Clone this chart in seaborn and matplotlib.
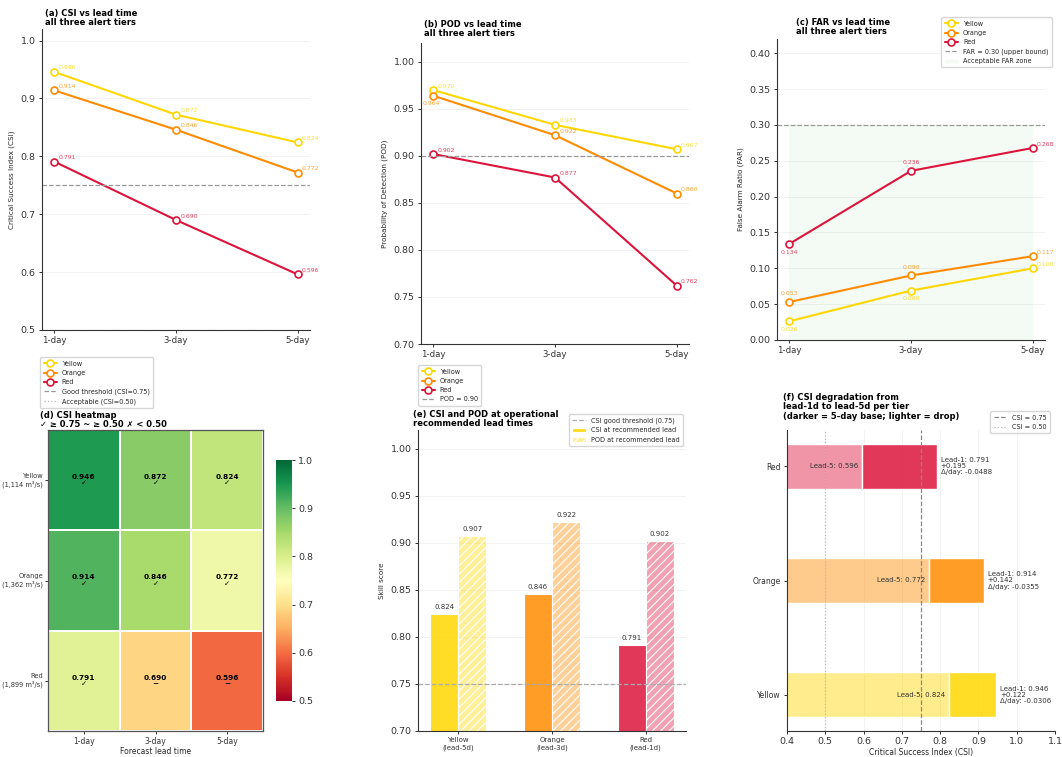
import numpy as np
import pandas as pd
import matplotlib
matplotlib.use("Agg")
import matplotlib.pyplot as plt
from matplotlib.lines import Line2D
from matplotlib.patches import Patch
from matplotlib.colors import to_rgba
import seaborn as sns

# ---------------------------------------------------------------- data
leads = ["1-day", "3-day", "5-day"]
tiers = ["Yellow", "Orange", "Red"]
tier_flow = [1114, 1362, 1899]  # m3/s alert thresholds

csi_yellow = [0.946, 0.872, 0.824]
csi_orange = [0.914, 0.846, 0.772]
csi_red = [0.791, 0.690, 0.596]

pod_yellow = [0.970, 0.933, 0.907]
pod_orange = [0.964, 0.922, 0.860]
pod_red = [0.902, 0.877, 0.762]

far_yellow = [0.026, 0.069, 0.100]
far_orange = [0.053, 0.090, 0.117]
far_red = [0.134, 0.236, 0.268]

rec_labels = ["Yellow\n(lead-5d)", "Orange\n(lead-3d)", "Red\n(lead-1d)"]
rec_csi = [0.824, 0.846, 0.791]
rec_pod = [0.907, 0.922, 0.902]

csi_drop_per_day = [-0.0306, -0.0355, -0.0488]

CSI_GOOD, CSI_OK, POD_GOOD, FAR_MAX = 0.75, 0.50, 0.90, 0.30

# ---------------------------------------------------------------- style
sns.set_style("ticks")
plt.rcParams.update({
    "font.family": ["DejaVu Sans"],
    "axes.edgecolor": "#333333",
    "axes.linewidth": 0.8,
    "xtick.major.size": 2.5,
    "ytick.major.size": 2.5,
    "xtick.major.width": 0.7,
    "ytick.major.width": 0.7,
    "xtick.major.pad": 2.0,
    "ytick.major.pad": 2.0,
    "xtick.color": "#333333",
    "ytick.color": "#333333",
    "legend.fontsize": 4.7,
    "hatch.linewidth": 0.8,
})

tier_colors = {"Yellow": "#FFD700", "Orange": "#FF8C00", "Red": "#DC143C"}

W, H = 1062, 757
fig = plt.figure(figsize=(W / 100, H / 100), dpi=100)


def box(l, t, r, b):
    return fig.add_axes([l / W, 1 - b / H, (r - l) / W, (b - t) / H])


def title(x, y, text):
    fig.text(x / W, 1 - y / H, text, ha="left", va="top", fontsize=6,
             fontweight="bold", linespacing=1.05, color="black")


def legend_at(ax, handles, loc, x, y):
    return ax.legend(handles=handles, loc=loc, bbox_to_anchor=(x / W, 1 - y / H),
                     bbox_transform=fig.transFigure, fontsize=4.7, frameon=True,
                     handlelength=2.0, borderpad=0.5, labelspacing=0.5)


def tier_handles():
    return [Line2D([], [], color=tier_colors[t], lw=1.5, marker="o", ms=5,
                   mfc="white", mec=tier_colors[t], mew=1.2, label=t) for t in tiers]


UR = (3, 1, "left", "bottom")
BL = (0, -4, "center", "top")
AB = (0, 4, "center", "bottom")


def trend_panel(ax, series, offsets, ylabel):
    for tier, vals in zip(tiers, series):
        col = tier_colors[tier]
        frame = pd.DataFrame({"lead": leads, "value": vals})
        sns.lineplot(data=frame, x="lead", y="value", ax=ax, color=col, linewidth=1.5,
                     marker="o", markersize=5, markerfacecolor="white",
                     markeredgecolor=col, markeredgewidth=1.2, legend=False)
        for lead, v, (dx, dy, ha, va) in zip(leads, vals, offsets.get(tier, [UR] * 3)):
            ax.annotate(f"{v:.3f}", xy=(lead, v), xytext=(dx, dy),
                        textcoords="offset points", ha=ha, va=va, fontsize=4.4,
                        color=col, alpha=0.8)
    ax.set_xlabel("")
    ax.set_ylabel(ylabel, fontsize=5.2)
    ax.tick_params(axis="x", labelsize=6.2)
    ax.tick_params(axis="y", labelsize=6.8)
    ax.grid(axis="y", color="#f0f0f0", lw=0.6)
    ax.set_axisbelow(True)
    sns.despine(ax=ax)


# ---------------------------------------------------------------- (a) CSI
ax_a = box(42, 29, 310, 330)
trend_panel(ax_a, [csi_yellow, csi_orange, csi_red], {}, "Critical Success Index (CSI)")
ax_a.axhline(CSI_GOOD, ls="--", color="#999999", lw=0.9)
ax_a.axhline(CSI_OK, ls=":", color="#bbbbbb", lw=0.9)
ax_a.set_ylim(0.5, 1.02)
title(45, 9, "(a) CSI vs lead time\nall three alert tiers")
legend_at(ax_a, tier_handles() + [
    Line2D([], [], ls="--", color="#999999", lw=0.9, label="Good threshold (CSI=0.75)"),
    Line2D([], [], ls=":", color="#bbbbbb", lw=0.9, label="Acceptable (CSI=0.50)"),
], "upper left", 37, 354)

# ---------------------------------------------------------------- (b) POD
ax_b = box(421, 43, 689, 344)
trend_panel(ax_b, [pod_yellow, pod_orange, pod_red],
            {"Orange": [(-1, -4, "center", "top"), UR, UR]},
            "Probability of Detection (POD)")
ax_b.axhline(POD_GOOD, ls="--", color="#999999", lw=0.9)
ax_b.set_ylim(0.70, 1.02)
ax_b.set_yticks(np.arange(0.70, 1.001, 0.05))
title(424, 20, "(b) POD vs lead time\nall three alert tiers")
legend_at(ax_b, tier_handles() + [
    Line2D([], [], ls="--", color="#999999", lw=0.9, label="POD = 0.90"),
], "upper left", 415, 362)

# ---------------------------------------------------------------- (c) FAR
ax_c = box(777, 39, 1045, 340)
trend_panel(ax_c, [far_yellow, far_orange, far_red],
            {"Yellow": [BL, BL, UR], "Orange": [AB, AB, UR], "Red": [BL, AB, UR]},
            "False Alarm Ratio (FAR)")
ax_c.axhline(FAR_MAX, ls="--", color="#999999", lw=0.9)
ax_c.fill_between(leads, 0, FAR_MAX, color="#2ca02c", alpha=0.05, lw=0)
ax_c.set_ylim(0, 0.42)
ax_c.set_yticks(np.arange(0, 0.401, 0.05))
title(796, 18, "(c) FAR vs lead time\nall three alert tiers")
legend_at(ax_c, tier_handles() + [
    Line2D([], [], ls="--", color="#999999", lw=0.9, label="FAR = 0.30 (upper bound)"),
    Patch(facecolor="#2ca02c", alpha=0.05, label="Acceptable FAR zone"),
], "upper right", 1055, 14)

# ---------------------------------------------------------------- (d) heatmap
ax_d = box(48, 430, 263, 731)
cax = box(276, 460, 292, 701)
csi_table = pd.DataFrame([csi_yellow, csi_orange, csi_red], columns=leads,
                         index=[f"{t}\n({q:,} m³/s)" for t, q in zip(tiers, tier_flow)])


def verdict(v):
    if v >= CSI_GOOD:
        return "✓"
    if v >= CSI_OK:
        return "~"
    return "✗"


cell_text = csi_table.apply(lambda col: col.map(lambda v: f"{v:.3f}\n{verdict(v)}"))
sns.heatmap(csi_table, ax=ax_d, cbar_ax=cax, cmap="RdYlGn", vmin=0.5, vmax=1.0,
            annot=cell_text.values, fmt="", linewidths=0.3, linecolor="white",
            annot_kws={"fontsize": 5.3, "fontweight": "bold", "color": "black",
                       "linespacing": 1.1})
for sp in ax_d.spines.values():
    sp.set_visible(True)
    sp.set_color("#555555")
    sp.set_linewidth(0.9)
ax_d.tick_params(axis="y", labelsize=4.8, rotation=0, pad=1)
ax_d.tick_params(axis="x", labelsize=5.5, rotation=0, pad=1.5)
ax_d.set_xlabel("Forecast lead time", fontsize=5.5, labelpad=1)
ax_d.set_ylabel("")
cax.tick_params(labelsize=6.8)
cax.yaxis.set_ticks(np.arange(0.5, 1.001, 0.1))
title(40, 411, "(d) CSI heatmap\n✓ ≥ 0.75 ~ ≥ 0.50 ✗ < 0.50")

# ---------------------------------------------------------------- (e) bars
ax_e = box(418, 430, 686, 731)
pos = np.arange(len(rec_labels))
bw = 0.3
bar_cols = [tier_colors[t] for t in tiers]
csi_bars = ax_e.bar(pos - bw / 2, rec_csi, bw,
                    color=[to_rgba(c, 0.85) for c in bar_cols],
                    edgecolor="white", lw=0.8, label="CSI at recommended lead")
pod_bars = ax_e.bar(pos + bw / 2, rec_pod, bw,
                    color=[to_rgba(c, 0.4) for c in bar_cols],
                    edgecolor="white", lw=0.8, hatch="////",
                    label="POD at recommended lead")
ax_e.bar_label(csi_bars, fmt="%.3f", padding=3, fontsize=5, color="#333333")
ax_e.bar_label(pod_bars, fmt="%.3f", padding=3, fontsize=5, color="#333333")
ax_e.axhline(CSI_GOOD, ls="--", color="#aaaaaa", lw=0.9)
ax_e.set_xticks(pos)
ax_e.set_xticklabels(rec_labels, fontsize=5)
ax_e.tick_params(axis="y", labelsize=6.8)
ax_e.set_ylim(0.70, 1.02)
ax_e.set_yticks(np.arange(0.70, 1.001, 0.05))
ax_e.set_ylabel("Skill score", fontsize=5.2)
ax_e.grid(axis="y", color="#f0f0f0", lw=0.6)
ax_e.set_axisbelow(True)
sns.despine(ax=ax_e)
title(413, 410, "(e) CSI and POD at operational\nrecommended lead times")
legend_at(ax_e, [
    Line2D([], [], ls="--", color="#aaaaaa", lw=0.9, label="CSI good threshold (0.75)"),
    csi_bars, pod_bars,
], "upper right", 686, 411)

# ---------------------------------------------------------------- (f) degradation
ax_f = box(787, 430, 1055, 731)
lead1 = [s[0] for s in (csi_yellow, csi_orange, csi_red)]
lead5 = [s[-1] for s in (csi_yellow, csi_orange, csi_red)]
drop = [a - b for a, b in zip(lead1, lead5)]
ax_f.barh(tiers, lead5, height=0.4, color=[to_rgba(c, 0.45) for c in bar_cols])
ax_f.barh(tiers, drop, left=lead5, height=0.4, color=[to_rgba(c, 0.85) for c in bar_cols])
ax_f.axvline(CSI_GOOD, ls="--", color="#888888", lw=0.9)
ax_f.axvline(CSI_OK, ls=":", color="#bbbbbb", lw=0.9)
for tier, l1, l5, d, rate in zip(tiers, lead1, lead5, drop, csi_drop_per_day):
    ax_f.text(l5 - 0.01, tier, f"Lead-5: {l5:.3f}", ha="right", va="center",
              fontsize=5, color="#333333")
    ax_f.text(l1 + 0.01, tier, f"Lead-1: {l1:.3f}\n+{d:.3f}\nΔ/day: {rate:.4f}",
              ha="left", va="center", fontsize=5, color="#333333", linespacing=1.0)
ax_f.set_xlim(0.4, 1.1)
ax_f.set_xticks(np.arange(0.4, 1.101, 0.1))
ax_f.tick_params(axis="x", labelsize=6.8)
ax_f.tick_params(axis="y", labelsize=5.5)
ax_f.set_xlabel("Critical Success Index (CSI)", fontsize=5.5, labelpad=1.5)
ax_f.grid(axis="x", color="#f0f0f0", lw=0.6)
ax_f.set_axisbelow(True)
sns.despine(ax=ax_f)
title(783, 393, "(f) CSI degradation from\nlead-1d to lead-5d per tier\n"
      "(darker = 5-day base; lighter = drop)")
legend_at(ax_f, [
    Line2D([], [], ls="--", color="#888888", lw=0.9, label="CSI = 0.75"),
    Line2D([], [], ls=":", color="#bbbbbb", lw=0.9, label="CSI = 0.50"),
], "upper right", 1053, 408)

fig.savefig("out.png", dpi=100)
